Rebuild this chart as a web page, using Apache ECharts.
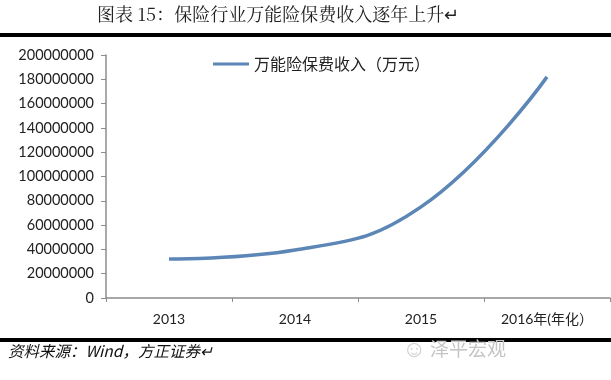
<!DOCTYPE html>
<html>
<head>
<meta charset="utf-8">
<script src="https://cdn.jsdelivr.net/npm/echarts@6/dist/echarts.min.js"></script>
<style>
html,body{margin:0;padding:0;background:#fff;}
#chart{width:611px;height:380px;}
</style>
</head>
<body>
<div id="chart"></div>
<script>
var categories = ['2013', '2014', '2015', '2016年(年化）'];
var seriesName = '万能险保费收入（万元）';
var values = [32000000, 39500000, 75000000, 182000000];
var yTicks = { min: 0, max: 200000000, interval: 20000000 };
var titleText = '图表 15：保险行业万能险保费收入逐年上升';
var sourceText = '资料来源：Wind，方正证券';
var watermarkText = '泽平宏观';

var chart = echarts.init(document.getElementById('chart'));
chart.setOption({
  animation: false,
  backgroundColor: '#fff',
  textStyle: { fontFamily: 'Lato, "Noto Sans CJK SC", sans-serif' },
  grid: { left: 106, right: 1, top: 55, bottom: 82, containLabel: false },
  legend: {
    data: [seriesName],
    left: 208, top: 51,
    itemWidth: 36, itemHeight: 10, itemGap: 2,
    icon: 'path://M0,4 L36,4 L36,7 L0,7 Z',
    textStyle: { fontSize: 16, color: '#222', fontFamily: '"Noto Sans CJK SC", sans-serif' }
  },
  xAxis: {
    type: 'category',
    data: categories,
    boundaryGap: true,
    axisLine: { lineStyle: { color: '#8c8c8c', width: 1.5 } },
    axisTick: { show: true, length: 4, lineStyle: { color: '#8c8c8c' } },
    axisLabel: { fontSize: 14, color: '#222', margin: 14, fontFamily: 'Lato, "Noto Sans CJK SC", sans-serif' }
  },
  yAxis: {
    type: 'value',
    min: yTicks.min, max: yTicks.max, interval: yTicks.interval,
    axisLine: { show: true, lineStyle: { color: '#8c8c8c', width: 1.5 } },
    axisTick: { show: true, length: 5, lineStyle: { color: '#8c8c8c' } },
    splitLine: { show: false },
    axisLabel: { fontSize: 14.5, color: '#222', margin: 12, formatter: function (v) { return String(v); } }
  },
  series: [{
    name: seriesName,
    type: 'line',
    data: values,
    smooth: 0.45,
    showSymbol: false,
    symbol: 'none',
    lineStyle: { color: '#5b86b6', width: 3.5 },
    itemStyle: { color: '#5b86b6' }
  }],
  graphic: [
    { type: 'text', left: 97, top: 5,
      style: { text: titleText + '↵', fontSize: 18, fill: '#222', fontFamily: '"Noto Serif CJK SC","Noto Sans CJK SC", serif' } },
    { type: 'rect', shape: { x: 0, y: 33, width: 611, height: 4 }, style: { fill: '#000' } },
    { type: 'rect', shape: { x: 0, y: 338, width: 611, height: 4 }, style: { fill: '#000' } },
    { type: 'text', left: 8, top: 343,
      style: { text: sourceText + '↵', fontSize: 15.5, fill: '#111', fontStyle: 'italic', fontFamily: '"Noto Sans CJK SC", serif' } },
    { type: 'text', left: 402, top: 338,
      style: { text: '☺', fontSize: 24, fill: '#cfcfcf' } },
    { type: 'text', left: 430, top: 339,
      style: { text: watermarkText, fontSize: 19, fill: '#c4c4c4', fontFamily: '"Noto Sans CJK SC", sans-serif' } }
  ]
});
</script>
</body>
</html>
